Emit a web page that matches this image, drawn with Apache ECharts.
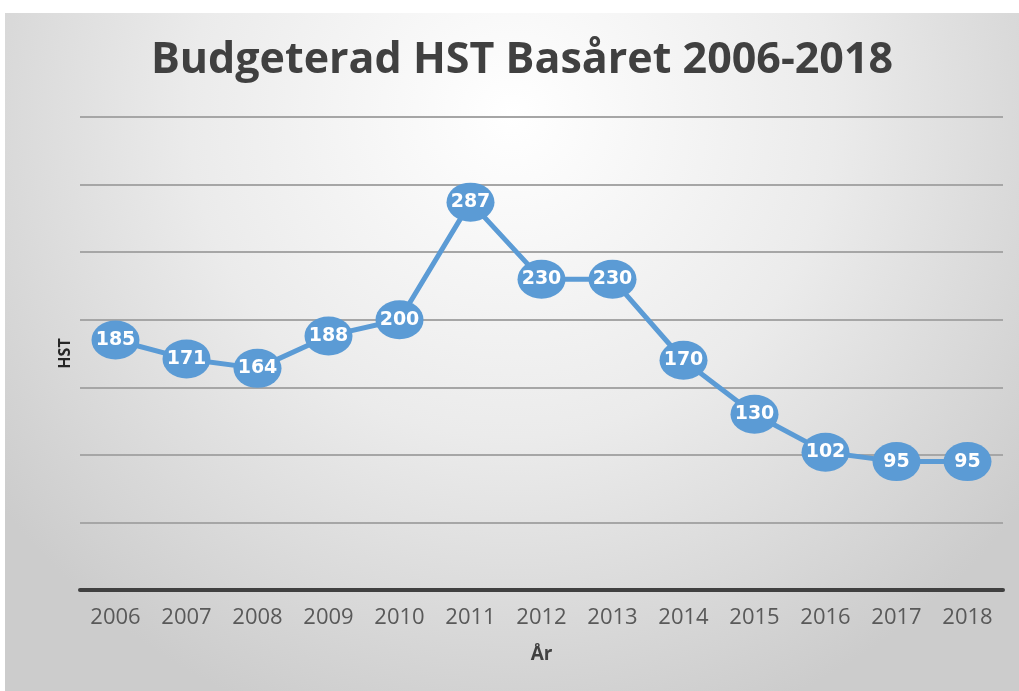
<!DOCTYPE html>
<html><head><meta charset="utf-8">
<script src="https://cdn.jsdelivr.net/npm/echarts@6/dist/echarts.min.js"></script>
<style>html,body{margin:0;padding:0;background:#fff}#c{width:1019px;height:691px}</style>
</head><body><div id="c"></div>
<script>
const years = ['2006','2007','2008','2009','2010','2011','2012','2013','2014','2015','2016','2017','2018'];
const hst = [185,171,164,188,200,287,230,230,170,130,102,95,95];
const yTicks = {min:0, max:350, interval:50};
const titleText = 'Budgeterad HST Basåret 2006-2018';

const chart = echarts.init(document.getElementById('c'));
chart.setOption({
  backgroundColor:'#ffffff',
  animation:false,
  graphic:[
    {type:'rect', z:-10, shape:{x:5,y:13,width:1014,height:678},
      style:{fill:{type:'radial',x:0.5,y:0.15,r:0.95,colorStops:[{offset:0,color:'#ffffff'},{offset:0.5,color:'#ebebeb'},{offset:1,color:'#cccccc'}]}}},
    {type:'text', z:10, x:522, y:61,
      style:{text:titleText, font:'bold 43px "Open Sans", sans-serif', fill:'#404040', align:'center', verticalAlign:'middle', textAlign:'center', textVerticalAlign:'middle'}}
  ],
  grid:{left:80, right:16, top:117, bottom:101, containLabel:false},
  xAxis:{type:'category', data:years, boundaryGap:true,
    name:'År', nameLocation:'middle', nameGap:55,
    nameTextStyle:{fontFamily:'Open Sans, sans-serif', fontWeight:'bold', fontSize:19, color:'#404040'},
    axisLine:{lineStyle:{color:'#404040', width:4}},
    axisTick:{show:false},
    axisLabel:{margin:17, fontFamily:'Open Sans, sans-serif', fontSize:22, color:'#595959'}},
  yAxis:{type:'value', min:yTicks.min, max:yTicks.max, interval:yTicks.interval,
    name:'HST', nameLocation:'middle', nameGap:7, nameRotate:90,
    nameTextStyle:{fontFamily:'Open Sans, sans-serif', fontWeight:'bold', fontSize:16, color:'#262626'},
    axisLine:{show:false}, axisTick:{show:false}, axisLabel:{show:false},
    splitLine:{lineStyle:{color:'#a6a6a6', width:2}}},
  series:[{type:'line', data:hst, z:5,
    lineStyle:{color:'#5b9bd5', width:5},
    symbol:'path://M0 50A50 50 0 1 0 100 50A50 50 0 1 0 0 50Z', symbolSize:[48,39],
    itemStyle:{color:'#5b9bd5'},
    label:{show:true, position:'inside', color:'#ffffff', fontFamily:'DejaVu Sans, Verdana, sans-serif', fontWeight:'bold', fontSize:19}}]
});
</script></body></html>
